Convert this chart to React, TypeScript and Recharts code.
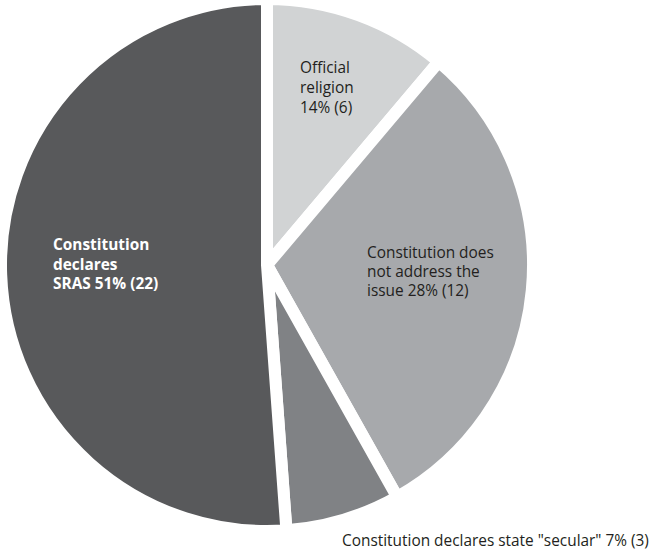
import React from 'react';
import { PieChart, Pie, Cell } from 'recharts';

const categories = [
  'Official religion',
  'Constitution does not address the issue',
  'Constitution declares state "secular"',
  'Constitution declares SRAS',
];
// slice sizes as drawn in the picture (the drawn wedges do not quite follow the printed counts)
const sliceValues = [4.8, 13.2, 3, 22];
// counts and percentages as printed on the labels
const counts = [6, 12, 3, 22];
const percents = [14, 28, 7, 51];
// label text, the last line gets "NN% (n)" appended
const labelLines = [
  ['Official', 'religion', ''],
  ['Constitution does', 'not address the', 'issue'],
  ['Constitution declares state "secular"'],
  ['Constitution', 'declares', 'SRAS'],
];
const colors = ['#d1d3d4', '#a7a9ac', '#808285', '#58595b'];

const data = categories.map((name, i) => ({
  name,
  value: sliceValues[i],
  count: counts[i],
  pct: percents[i],
}));

// where each label's first baseline sits, relative to the pie centre
const labelPos = [
  { dx: 33, dy: -192, lh: 20, fill: '#231f20', bold: false },
  { dx: 100, dy: -7, lh: 19, fill: '#231f20', bold: false },
  { dx: 75, dy: 281, lh: 19, fill: '#231f20', bold: false },
  { dx: -214, dy: -15, lh: 19.5, fill: '#ffffff', bold: true },
];

const renderLabel = (props: any) => {
  const { cx, cy, index } = props;
  const p = labelPos[index];
  const lines = labelLines[index];
  const d = data[index];
  const last = `${d.pct}% (${d.count})`;
  const shown = lines.map((l, i) =>
    i === lines.length - 1 ? (l ? `${l} ${last}` : last) : l
  );
  return (
    <text
      key={`lbl-${index}`}
      x={cx + p.dx}
      y={cy + p.dy}
      fill={p.fill}
      fontSize={15.4}
      fontWeight={p.bold ? 700 : 400}
      fontFamily="'Open Sans', 'Noto Sans', sans-serif"
      textAnchor="start"
    >
      {shown.map((s, i) => (
        <tspan key={i} x={cx + p.dx} dy={i === 0 ? 0 : p.lh}>
          {s}
        </tspan>
      ))}
    </text>
  );
};

export default function App() {
  return (
    <div style={{ position: 'absolute', left: 0, top: 0, background: '#fff' }}>
      <PieChart width={664} height={552} margin={{ top: 0, right: 0, bottom: 0, left: 0 }}>
        <Pie
          data={data}
          dataKey="value"
          nameKey="name"
          cx={267}
          cy={265}
          outerRadius={266}
          startAngle={90}
          endAngle={-270}
          stroke="#ffffff"
          strokeWidth={12}
          label={renderLabel}
          labelLine={false}
          isAnimationActive={false}
        >
          {data.map((d, i) => (
            <Cell key={d.name} fill={colors[i]} />
          ))}
        </Pie>
      </PieChart>
    </div>
  );
}
